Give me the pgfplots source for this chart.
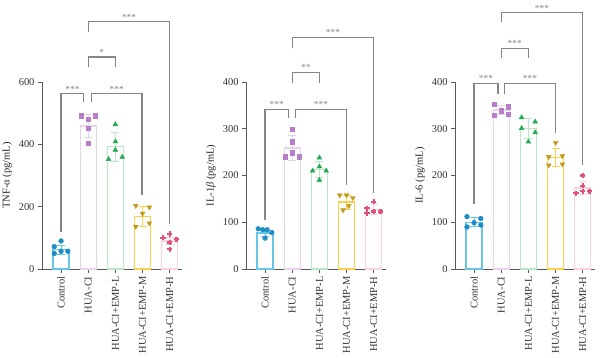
\documentclass[border=0pt]{standalone}
\usepackage{pgfplots}
\pgfplotsset{compat=1.18}
\usepackage{fontspec}
\setmainfont{Liberation Serif}
\definecolor{cA}{HTML}{1F8DC6}\definecolor{eA}{HTML}{66C6E6}
\definecolor{cB}{HTML}{B580C8}\definecolor{eB}{HTML}{E8D2EC}
\definecolor{cC}{HTML}{22AA55}\definecolor{eC}{HTML}{BCE4C6}
\definecolor{cD}{HTML}{C49A1C}\definecolor{eD}{HTML}{F7D24A}
\definecolor{cE}{HTML}{E0527C}\definecolor{eE}{HTML}{F8D3DE}
\definecolor{brk}{HTML}{858585}
\newcommand{\gbar}[4]{\addplot[ybar, bar width=16bp, bar shift=0pt, fill=white, draw=#4, line width=1.3bp, forget plot,
  error bars/.cd, y dir=both, y explicit, error bar style={#4, line width=1bp},
  error mark options={rotate=90, mark size=4bp, #4, line width=1bp}] coordinates {(#1,#2) +- (0,#3)};}
\newcommand{\brk}[7]{\draw[brk, line width=1.2bp] (axis cs:#1,#2) -- (axis cs:#1,#5) -- (axis cs:#3,#5) -- (axis cs:#3,#4);
  \node[brk, above, inner sep=1.5bp, font=\fontsize{9.5}{9.5}\selectfont] at (axis cs:#6,#5) {#7};}
\pgfplotsset{panel/.style={
  scale only axis, width=140bp, height=187bp,
  xmin=-0.7, xmax=4.45, ymin=0,
  axis x line*=bottom, axis y line*=left,
  axis line style={line width=0.9bp, color=black!65},
  tick style={line width=0.9bp, color=black!65},
  tick align=outside, major tick length=4bp,
  xtick={0,1,2,3,4},
  xticklabels={Control,HUA-CI,HUA-CI+EMP-L,HUA-CI+EMP-M,HUA-CI+EMP-H},
  x tick label style={rotate=90, anchor=east, font=\fontsize{10.5}{12}\selectfont, text=black!80},
  y tick label style={font=\fontsize{10.5}{12}\selectfont, text=black!80},
  /pgf/number format/assume math mode=true,
  ylabel style={font=\fontsize{10.5}{12}\selectfont, text=black!85},
  clip=false, anchor=south west}}
\begin{document}
\begin{tikzpicture}
\path[use as bounding box] (0,0) rectangle (600bp,358bp);
% ---------- TNF-alpha
\begin{axis}[panel, at={(42bp,89bp)}, ymax=600, ytick={0,200,400,600}, ylabel={TNF-α (pg/mL)}]
\gbar{0}{62}{15}{eA}
\gbar{1}{459}{38}{eB}
\gbar{2}{392}{46}{eC}
\gbar{3}{168}{32}{eD}
\gbar{4}{90}{12}{eE}
\addplot[only marks, mark=*, mark size=2.4bp, cA] coordinates {(0,90) (-0.25,72) (-0.25,50) (0,57) (0.25,57)};
\addplot[only marks, mark=square*, mark size=2.2bp, cB] coordinates {(0.75,492) (1,481) (1.25,492) (1,452) (1,403)};
\addplot[only marks, mark=triangle*, mark size=2.8bp, cC] coordinates {(2,464) (2,409) (2,382) (1.75,352) (2.25,359)};
\addplot[only marks, mark=triangle*, mark options={rotate=180}, mark size=2.8bp, cD] coordinates {(2.75,203) (3.25,198) (3,178) (2.75,136) (3.25,147)};
\addplot[only marks, mark=+, mark size=2.6bp, mark options={line width=2.2bp}, cE] coordinates {(4,112) (3.75,100) (4.25,95) (4,85) (4,63)};
\brk{0}{120}{0.83}{536}{562}{0.42}{***}
\brk{1}{649}{2}{649}{680}{1.5}{*}
\brk{1.11}{536}{2.98}{237}{562}{2.05}{***}
\brk{1}{761}{4}{144}{793}{2.5}{***}
\end{axis}
% ---------- IL-1beta
\begin{axis}[panel, at={(246bp,89bp)}, ymax=400, ytick={0,100,200,300,400}, ylabel={IL-1\textit{β} (pg/mL)}]
\gbar{0}{77}{8}{eA}
\gbar{1}{259}{26}{eB}
\gbar{2}{213}{17}{eC}
\gbar{3}{143}{15}{eD}
\gbar{4}{127}{10}{eE}
\addplot[only marks, mark=*, mark size=2.4bp, cA] coordinates {(-0.25,86) (-0.08,84) (0.08,84) (0.25,78) (0,66)};
\addplot[only marks, mark=square*, mark size=2.2bp, cB] coordinates {(1,299) (1,272) (1,249) (0.75,240) (1.25,240)};
\addplot[only marks, mark=triangle*, mark size=2.8bp, cC] coordinates {(2,238) (2,219) (1.75,210) (2.25,210) (2,190)};
\addplot[only marks, mark=triangle*, mark options={rotate=180}, mark size=2.8bp, cD] coordinates {(2.75,158) (3,158) (3.23,152) (3.08,135) (2.87,126)};
\addplot[only marks, mark=+, mark size=2.6bp, mark options={line width=2.2bp}, cE] coordinates {(4,144) (3.75,130) (3.75,119) (4,123) (4.25,123)};
\brk{0}{105}{0.87}{323}{342}{0.43}{***}
\brk{1}{397}{2}{397}{420}{1.5}{**}
\brk{1.13}{323}{3}{180}{342}{2.06}{***}
\brk{1}{472}{4}{163}{495}{2.5}{***}
\end{axis}
% ---------- IL-6
\begin{axis}[panel, at={(455bp,89bp)}, ymax=400, ytick={0,100,200,300,400}, ylabel={IL-6 (pg/mL)}]
\gbar{0}{100}{10}{eA}
\gbar{1}{340}{10}{eB}
\gbar{2}{301}{22}{eC}
\gbar{3}{239}{19}{eD}
\gbar{4}{173}{14}{eE}
\addplot[only marks, mark=*, mark size=2.4bp, cA] coordinates {(-0.26,112) (0.25,108) (0,99) (-0.26,90) (0.25,94)};
\addplot[only marks, mark=square*, mark size=2.2bp, cB] coordinates {(0.75,353) (1.25,347) (1,339) (0.75,329) (1.25,331)};
\addplot[only marks, mark=triangle*, mark size=2.8bp, cC] coordinates {(1.75,324) (2.25,315) (1.75,301) (2.25,292) (2,272)};
\addplot[only marks, mark=triangle*, mark options={rotate=180}, mark size=2.8bp, cD] coordinates {(3,270) (2.75,240) (3.25,242) (2.75,222) (3.25,224)};
\addplot[only marks, mark=+, mark size=2.6bp, mark options={line width=2.2bp}, cE] coordinates {(4,200) (4,178) (3.75,162) (4,166) (4.25,166)};
\brk{0}{140}{0.88}{374}{397}{0.44}{***}
\brk{1}{451}{2}{451}{472}{1.5}{***}
\brk{1.13}{374}{3}{290}{397}{2.06}{***}
\brk{1}{528}{4}{222}{548}{2.5}{***}
\end{axis}
\end{tikzpicture}
\end{document}
